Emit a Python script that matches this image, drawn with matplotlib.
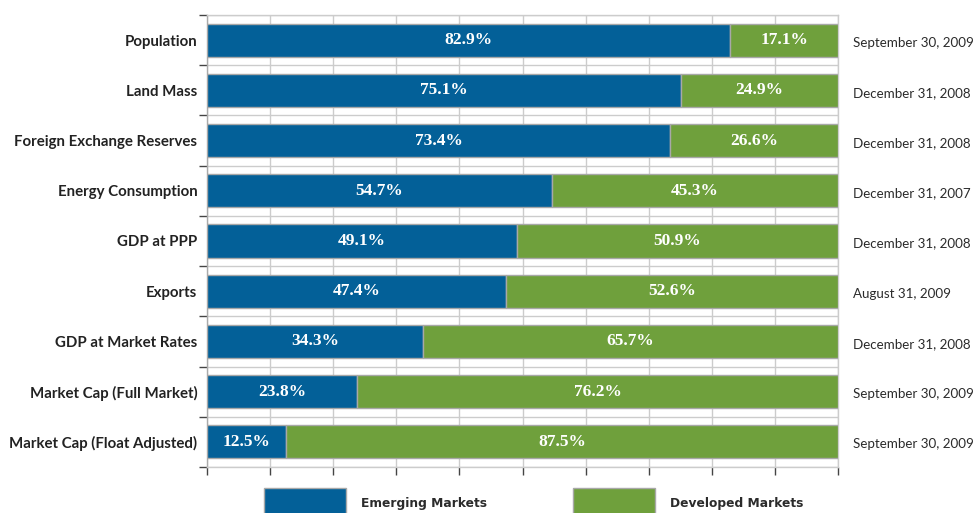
import matplotlib
matplotlib.use("Agg")
import matplotlib.pyplot as plt
import matplotlib.transforms as mtransforms
from matplotlib.patches import Rectangle
import numpy as np

categories = ["Population", "Land Mass", "Foreign Exchange Reserves", "Energy Consumption",
              "GDP at PPP", "Exports", "GDP at Market Rates", "Market Cap (Full Market)",
              "Market Cap (Float Adjusted)"]
emerging = [82.9, 75.1, 73.4, 54.7, 49.1, 47.4, 34.3, 23.8, 12.5]
developed = [17.1, 24.9, 26.6, 45.3, 50.9, 52.6, 65.7, 76.2, 87.5]
dates = ["September 30, 2009", "December 31, 2008", "December 31, 2008", "December 31, 2007",
         "December 31, 2008", "August 31, 2009", "December 31, 2008", "September 30, 2009",
         "September 30, 2009"]
series_names = ["Emerging Markets", "Developed Markets"]

BLUE = "#036098"
GREEN = "#6FA03C"
EDGE = "#A8A8A8"
GRID = "#CCCCCC"
TXT = "#2B2B2B"

W, H = 976, 513
fig = plt.figure(figsize=(W / 100, H / 100), dpi=100)
ax = fig.add_axes([207 / W, 1 - 467 / H, (838 - 207) / W, (467 - 15) / H])

y = np.arange(len(categories))
ax.barh(y, emerging, height=0.66, color=BLUE, edgecolor=EDGE, linewidth=1, zorder=3)
ax.barh(y, developed, left=emerging, height=0.66, color=GREEN, edgecolor=EDGE, linewidth=1, zorder=3)

date_tr = mtransforms.blended_transform_factory(fig.transFigure, ax.transData)
for i in range(len(categories)):
    ax.text(emerging[i] / 2, y[i], f"{emerging[i]:.1f}%", ha="center", va="center",
            color="white", fontsize=12.5, fontweight="bold", family="Liberation Serif", zorder=4)
    ax.text(emerging[i] + developed[i] / 2, y[i], f"{developed[i]:.1f}%", ha="center", va="center",
            color="white", fontsize=12.5, fontweight="bold", family="Liberation Serif", zorder=4)
    ax.text(853 / W, y[i] + 0.05, dates[i], transform=date_tr, ha="left", va="center",
            color=TXT, fontsize=9.6, family="Lato", clip_on=False)

ax.set_xlim(0, 100)
ax.set_ylim(len(categories) - 0.5, -0.5)
ax.set_xticks(np.arange(0, 101, 10))
ax.set_xticklabels([])
ax.set_yticks(y)
ax.set_yticklabels(categories, fontsize=10.8, fontweight="bold", family="Lato", color="#222222")
ax.set_yticks(np.arange(-0.5, len(categories), 1), minor=True)
ax.tick_params(axis="y", which="major", length=0, pad=7)
ax.tick_params(axis="y", which="minor", length=6, width=1, color="#444444")
ax.tick_params(axis="x", which="major", length=6, width=1, color="#444444", direction="out")

ax.grid(True, axis="x", which="major", color=GRID, linewidth=1, zorder=0)
ax.grid(True, axis="y", which="minor", color=GRID, linewidth=1, zorder=0)
ax.set_axisbelow(True)
for s in ax.spines.values():
    s.set_color(GRID)
    s.set_linewidth(1)
ax.spines["left"].set_color("#AAAAAA")

# legend
leg_top = 488
for x0, col, name in [(264, BLUE, series_names[0]), (573, GREEN, series_names[1])]:
    fig.add_artist(Rectangle((x0 / W, -0.02), 82 / W, (H - leg_top) / H + 0.02,
                             transform=fig.transFigure, facecolor=col, edgecolor=EDGE,
                             linewidth=1, clip_on=False))
    fig.text((x0 + 97) / W, 1 - 503 / H, name, ha="left", va="center",
             fontsize=8.8, fontweight="bold", family="DejaVu Sans", color=TXT)

fig.savefig("out.png", dpi=100)
